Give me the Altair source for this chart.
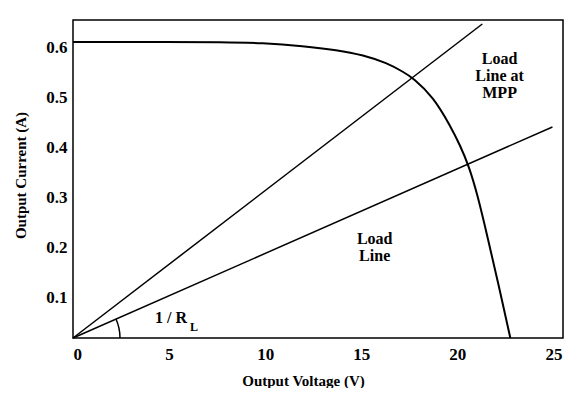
import altair as alt
import pandas as pd

# I-V curve of the panel
volt = [0, 5.2, 7.66, 9.9, 11.98, 13.75, 15.1, 16.35, 17.19, 17.71, 18.75, 19.64, 20.16, 20.6, 21.04, 21.56, 22.08, 22.76]
curr = [0.610, 0.610, 0.610, 0.608, 0.602, 0.594, 0.584, 0.568, 0.550, 0.538, 0.500, 0.442, 0.402, 0.362, 0.306, 0.222, 0.136, 0.018]

# load lines (start, end)
mpp_v = [0, 21.3]
mpp_i = [0.018, 0.646]
load_v = [0, 24.95]
load_i = [0.018, 0.44]

x_ticks = [0, 5, 10, 15, 20, 25]
y_ticks = [0.1, 0.2, 0.3, 0.4, 0.5, 0.6]

XD = [0, 25.5]
YD = [0.018, 0.654]

curve_df = pd.DataFrame({"v": volt, "i": curr, "o": range(len(volt))})
lines_df = pd.DataFrame({
    "v": mpp_v + load_v,
    "i": mpp_i + load_i,
    "line": ["mpp", "mpp", "load", "load"],
})

xs = alt.Scale(domain=XD, nice=False, zero=False)
ys = alt.Scale(domain=YD, nice=False, zero=False)

xaxis = alt.Axis(values=x_ticks, format="d", title="Output Voltage (V)", grid=False,
                 ticks=False, domain=False, labelPadding=8,
                 titleX=230, titleY=42, titleBaseline="middle")
yaxis = alt.Axis(values=y_ticks, format=".1f", title="Output Current (A)", grid=False,
                 ticks=False, domain=False, labelPadding=6,
                 titleX=-53, titleY=155, titleBaseline="middle")

curve = alt.Chart(curve_df).mark_line(color="black", strokeWidth=2, interpolate="basis").encode(
    x=alt.X("v:Q", scale=xs, axis=xaxis),
    y=alt.Y("i:Q", scale=ys, axis=yaxis),
    order="o:Q",
)

loads = alt.Chart(lines_df).mark_line(color="black", strokeWidth=1.5).encode(
    x=alt.X("v:Q", scale=xs),
    y=alt.Y("i:Q", scale=ys),
    detail="line:N",
)

ann_df = pd.DataFrame({
    "v": [22.2, 15.7, 5.1],
    "i": [0.577, 0.216, 0.058],
    "t": [["Load", "Line at", "MPP"], ["Load", "Line"], ["1 / R"]],
})
ann = alt.Chart(ann_df).mark_text(font="Liberation Serif", fontWeight="bold", fontSize=16,
                                  lineHeight=17, color="black").encode(
    x=alt.X("v:Q", scale=xs), y=alt.Y("i:Q", scale=ys), text="t")

sub_df = pd.DataFrame({"v": [6.3], "i": [0.040], "t": ["L"]})
sub = alt.Chart(sub_df).mark_text(font="Liberation Serif", fontWeight="bold", fontSize=12,
                                  color="black").encode(
    x=alt.X("v:Q", scale=xs), y=alt.Y("i:Q", scale=ys), text="t")

arc_df = pd.DataFrame({"v": [0], "i": [0.018]})
arc = alt.Chart(arc_df).mark_arc(theta=1.155, theta2=1.5708, radius=47, radius2=47,
                                 stroke="black", strokeWidth=1.5, fillOpacity=0).encode(
    x=alt.X("v:Q", scale=xs), y=alt.Y("i:Q", scale=ys))

chart = alt.layer(curve, loads, arc, ann, sub).properties(
    width=490, height=318,
    autosize=alt.AutoSizeParams(type="none"),
    padding={"left": 65, "top": 12, "right": 2, "bottom": 50},
).configure_view(stroke="black", strokeWidth=1.5).configure_axis(
    labelFont="Liberation Serif", labelFontWeight="bold", labelFontSize=17, labelColor="black",
    titleFont="Liberation Serif", titleFontWeight="bold", titleFontSize=15, titleColor="black",
)

chart.save("out.html", embed_options={"renderer": "svg", "actions": False})
